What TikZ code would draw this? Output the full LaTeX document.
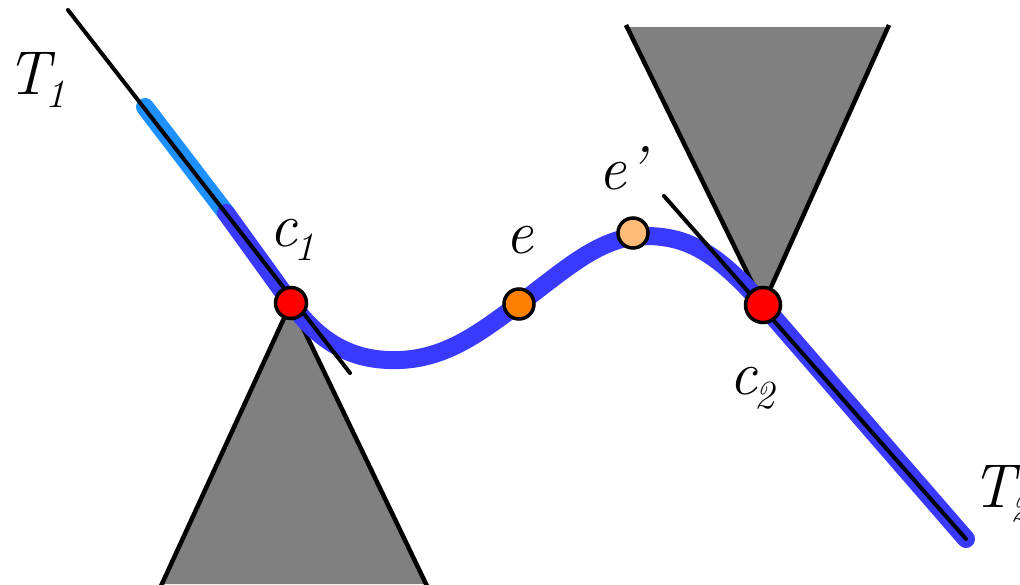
\documentclass[tikz,border=0pt]{standalone}
\newcommand\lblsub[1]{\kern-0.06em\raisebox{-0.22em}{\fontsize{40}{40}\selectfont #1}}
\begin{document}
\begin{tikzpicture}[x=1pt,y=-1pt,
  lbl/.style={font=\fontsize{62}{62}\selectfont\itshape, inner sep=0pt},
  coneside/.style={line width=4.5pt, black},
  tline/.style={line width=4pt, black, line cap=round},
  curvepath/.style={line width=18pt, color={rgb,255:red,58;green,58;blue,255}, line cap=round, line join=round},
  lightpath/.style={line width=18pt, color={rgb,255:red,30;green,144;blue,255}, line cap=round},
  pt/.style={circle, draw=black, line width=3.5pt, inner sep=0pt, minimum size=#1}]
\definecolor{conegray}{RGB}{128,128,128}
\definecolor{redpt}{RGB}{255,0,0}
\definecolor{orangept}{RGB}{255,128,0}
\definecolor{lightorange}{RGB}{255,187,119}
\useasboundingbox (0,0) rectangle (1020,584);
% points
\coordinate (c1pos) at (291,303);
\coordinate (c2pos) at (763,305);
\coordinate (t1a) at (68,10);
\coordinate (t1b) at (350,373);
\coordinate (t2a) at (664,196);
\coordinate (t2b) at (966,539);
\coordinate (lb0) at (145,107);
\coordinate (lb1) at (226,213);
\coordinate (up1) at (627,27);
\coordinate (up2) at (888,27);
\coordinate (dn1) at (163,584);
\coordinate (dn2) at (425,584);
% cones
\fill[conegray] (up1) -- (c2pos) -- (up2) -- cycle;
\draw[coneside] (626,25) -- (c2pos) -- (889,25);
\fill[conegray] (dn1) -- (c1pos) -- (dn2) -- cycle;
\draw[coneside] (161,586) -- (c1pos) -- (427,586);
% trajectory
\draw[lightpath] (lb0) -- (lb1);
\draw[curvepath] (lb1) -- (c1pos)
  .. controls (318,340) and (350,362) .. (400,360)
  .. controls (450,358) and (485,328) .. (519,304)
  .. controls (565,270) and (600,236) .. (645,236)
  .. controls (685,236) and (715,250) .. (c2pos)
  -- (t2b);
% tangent lines
\draw[tline] (t1a) -- (t1b);
\draw[tline] (t2a) -- (t2b);
% points
\node[pt=31pt, fill=redpt] (c1) at (c1pos) {};
\node[pt=35pt, fill=redpt] (c2) at (c2pos) {};
\node[pt=30pt, fill=orangept] (e) at (519,304) {};
\node[pt=30pt, fill=lightorange] (ep) at (633,233) {};
% labels
\node[lbl] (T1) at (36,80) {T\lblsub{1}};
\node[lbl] (c1l) at (292,240) {c\lblsub{1}};
\node[lbl] (el) at (519,240) {e};
\node[lbl] (epl) at (622,168) {e’};
\node[lbl] (c2l) at (752,388) {c\lblsub{2}};
\node[lbl] (T2l) at (1001,494) {T\lblsub{2}};
\end{tikzpicture}
\end{document}
